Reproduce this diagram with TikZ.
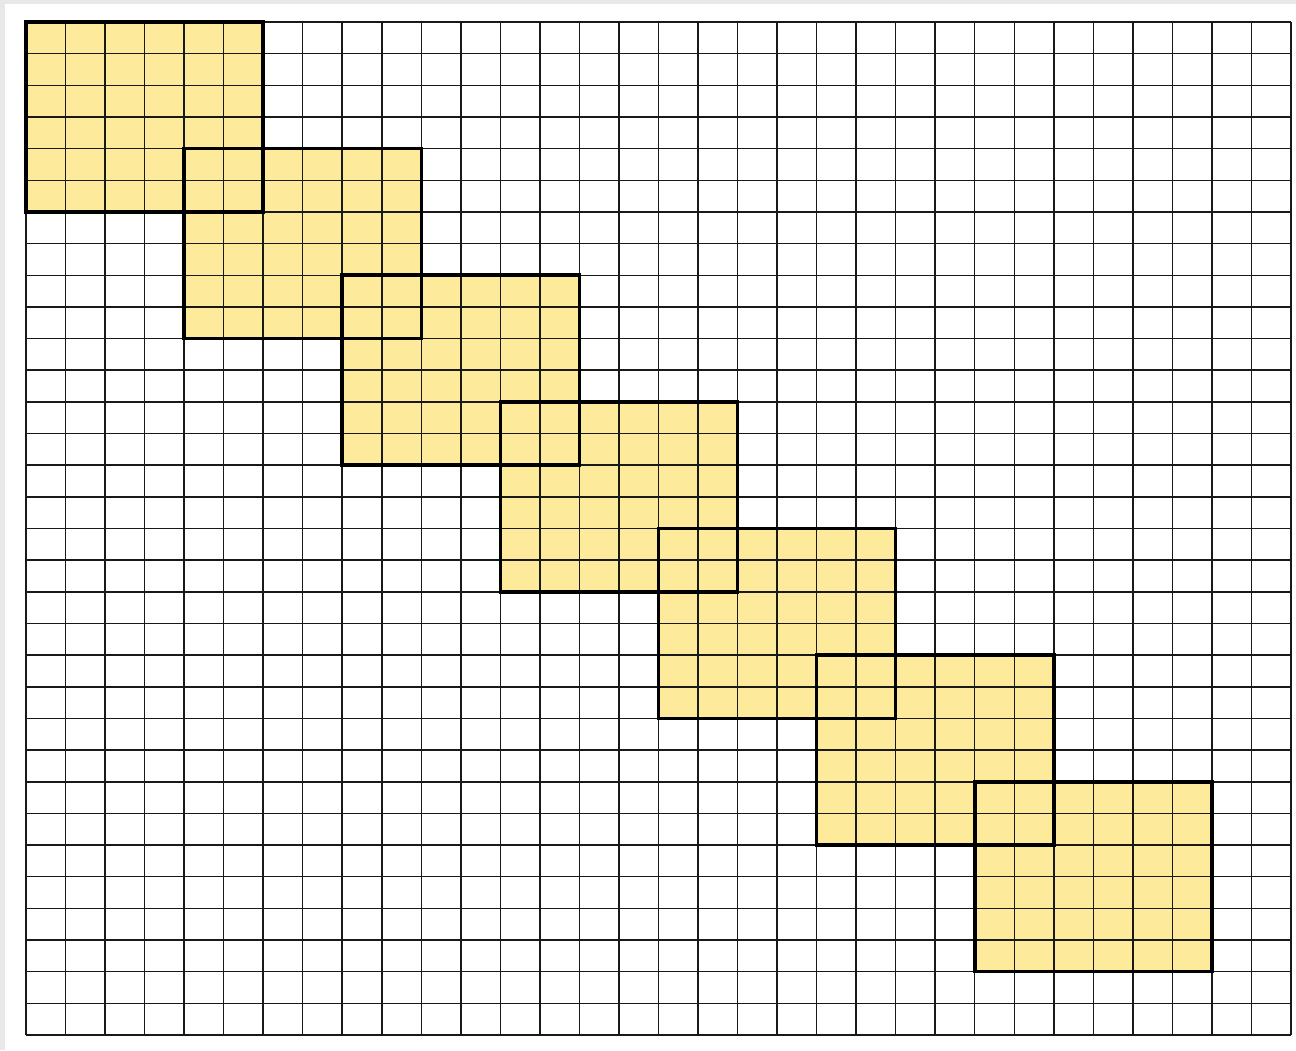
\documentclass[tikz,border=0pt]{standalone}
\definecolor{cellfill}{RGB}{254,234,155}
\definecolor{framegray}{RGB}{232,232,232}
\tikzset{
  gridline/.style={line width=1.5pt, draw=black!90},
  blockborder/.style={line width=3.6pt, draw=black},
  blockfill/.style={fill=cellfill}
}
\begin{document}
\begin{tikzpicture}
\useasboundingbox (0,0) rectangle (1296pt,-1050pt);
\fill[white] (0,0) rectangle (1296pt,-1050pt);
\fill[framegray] (0,0) rectangle (1296pt,-4pt);
\fill[framegray] (0,0) rectangle (5pt,-1050pt);
\begin{scope}[shift={(26pt,-22pt)}, x=39.53pt, y=-31.656pt]
  \foreach \k in {0,...,6} {
    \fill[blockfill] ({4*\k},{4*\k}) rectangle ({4*\k+6},{4*\k+6});
  }
  \foreach \i in {0,...,32} {
    \draw[gridline] (\i,0) -- (\i,32);
    \draw[gridline] (0,\i) -- (32,\i);
  }
  \foreach \k in {0,...,6} {
    \draw[blockborder] ({4*\k},{4*\k}) rectangle ({4*\k+6},{4*\k+6});
  }
\end{scope}
\end{tikzpicture}
\end{document}
